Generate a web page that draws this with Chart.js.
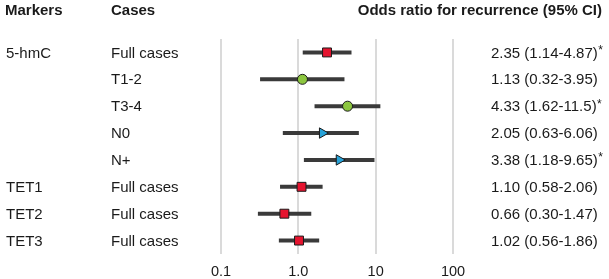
<!DOCTYPE html>
<html>
<head>
<meta charset="utf-8">
<script src="https://cdn.jsdelivr.net/npm/chart.js@4/dist/chart.umd.min.js"></script>
<style>
	html, body { margin: 0; padding: 0; background: #fff; }
	#wrap { width: 609px; height: 279px; position: relative; }
</style>
</head>
<body>
<div id="wrap"><canvas id="myChart" width="609" height="279"></canvas></div>
<script>
// datos
var markers = ['5-hmC', '', '', '', '', 'TET1', 'TET2', 'TET3'];
var cases = ['Full cases', 'T1-2', 'T3-4', 'N0', 'N+', 'Full cases', 'Full cases', 'Full cases'];
var oddsRatio = [2.35, 1.13, 4.33, 2.05, 3.38, 1.10, 0.66, 1.02];
var ciLow = [1.14, 0.32, 1.62, 0.63, 1.18, 0.58, 0.30, 0.56];
var ciHigh = [4.87, 3.95, 11.5, 6.06, 9.65, 2.06, 1.47, 1.86];
var significant = [true, false, true, false, true, false, false, false];
var tickValues = [0.1, 1, 10, 100];
var tickLabels = ['0.1', '1.0', '10', '100'];

var FONT = '"Liberation Sans", Arial, sans-serif';

function estiloMarcador(caso) {
	if (caso.charAt(0) == 'T') return { style: 'circle', color: '#8cc63f', radius: 5, rotation: 0 };
	if (caso.charAt(0) == 'N') return { style: 'triangle', color: '#27a2d8', radius: 6, rotation: 90 };
	return { style: 'rect', color: '#e5142f', radius: 6.3, rotation: 0 };
}

function fmt(v) {
	return v >= 10 ? v.toFixed(1) : v.toFixed(2);
}

var datasets = [];

// marcadores (encima)
var puntos = [], estilos = [], colores = [], radios = [], rotaciones = [];
for (var i = 0; i < oddsRatio.length; i++) {
	var e = estiloMarcador(cases[i]);
	puntos.push({ x: oddsRatio[i], y: i + 1 });
	estilos.push(e.style);
	colores.push(e.color);
	radios.push(e.radius);
	rotaciones.push(e.rotation);
}
datasets.push({
	type: 'scatter',
	data: puntos,
	pointStyle: estilos,
	backgroundColor: colores,
	borderColor: '#1a1a1a',
	borderWidth: 1,
	pointRadius: radios,
	pointRotation: rotaciones,
	order: 0
});

// intervalos de confianza
for (var i = 0; i < oddsRatio.length; i++) {
	datasets.push({
		type: 'line',
		data: [{ x: ciLow[i], y: i + 1 }, { x: ciHigh[i], y: i + 1 }],
		borderColor: '#3a3a3a',
		borderWidth: 4,
		pointRadius: 0,
		borderCapStyle: 'butt',
		order: 1
	});
}

var textos = {
	id: 'textos',
	afterDraw: function(chart) {
		var ctx = chart.ctx;
		var y = chart.scales.y;
		ctx.save();
		ctx.fillStyle = '#1a1a1a';
		ctx.textBaseline = 'middle';
		ctx.textAlign = 'left';
		ctx.font = 'bold 15px ' + FONT;
		ctx.fillText('Markers', 5, 11);
		ctx.fillText('Cases', 111, 11);
		ctx.textAlign = 'right';
		ctx.fillText('Odds ratio for recurrence (95% CI)', 602, 11);
		ctx.textAlign = 'left';
		for (var i = 0; i < cases.length; i++) {
			var py = y.getPixelForValue(i + 1) + 1;
			ctx.font = '15px ' + FONT;
			ctx.fillText(markers[i], 6, py);
			ctx.fillText(cases[i], 111, py);
			var t = fmt(oddsRatio[i]) + ' (' + fmt(ciLow[i]) + '-' + fmt(ciHigh[i]) + ')';
			ctx.fillText(t, 491, py);
			if (significant[i]) {
				var w = ctx.measureText(t).width;
				ctx.font = '12px ' + FONT;
				ctx.fillText('*', 491 + w + 0.5, py - 3);
			}
		}
		ctx.restore();
	}
};

var ctx = document.getElementById('myChart').getContext('2d');
var myChart = new Chart(ctx, {
	data: { datasets: datasets },
	options: {
		responsive: false,
		animation: false,
		devicePixelRatio: 1,
		layout: { padding: { left: 221, right: 156, top: 39, bottom: 0 } },
		plugins: { legend: { display: false }, tooltip: { enabled: false } },
		scales: {
			x: {
				type: 'logarithmic',
				min: 0.1,
				max: 100,
				border: { display: false },
				grid: { color: '#dadada', lineWidth: 2, drawTicks: false },
				afterBuildTicks: function(scale) {
					scale.ticks = tickValues.map(function(v) { return { value: v }; });
				},
				afterFit: function(scale) { scale.height = 25; },
				ticks: {
					autoSkip: false,
					maxRotation: 0,
					padding: 9,
					color: '#1a1a1a',
					font: { family: FONT, size: 14.5 },
					callback: function(v) {
						var k = tickValues.indexOf(v);
						return k >= 0 ? tickLabels[k] : '';
					}
				}
			},
			y: {
				type: 'linear',
				min: 0.5,
				max: 8.5,
				reverse: true,
				display: false
			}
		}
	},
	plugins: [textos]
});
</script>
</body>
</html>
